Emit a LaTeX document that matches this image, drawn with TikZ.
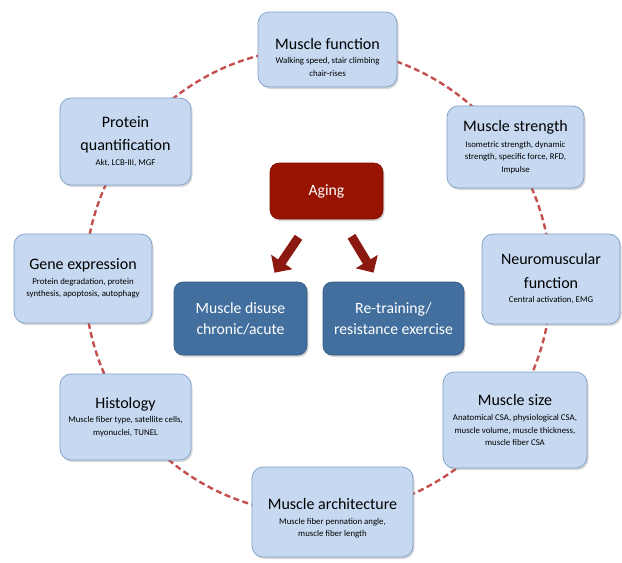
\documentclass[tikz,border=0pt]{standalone}
\usepackage{fontspec}
\setmainfont{Carlito}
\usetikzlibrary{arrows.meta,shadows,calc}

\definecolor{boxfill}{RGB}{198,217,241}
\definecolor{boxline}{RGB}{125,158,200}
\definecolor{midfill}{RGB}{66,111,158}
\definecolor{agefill}{RGB}{152,20,0}
\definecolor{arrowred}{RGB}{140,25,15}
\definecolor{ringred}{RGB}{196,80,77}

\newcommand{\boxtitle}[1]{{\fontsize{16}{19}\selectfont #1}}
\newcommand{\boxnote}[1]{{\fontsize{8.8}{11}\selectfont #1}}

\begin{document}
\begin{tikzpicture}[x=1pt,y=-1pt]
\tikzset{outer/.style={draw=boxline, fill=boxfill, rounded corners=11pt, line width=0.7pt, align=center, inner sep=2pt, font=\fontsize{8.8}{14.5}\selectfont, drop shadow={shadow xshift=1.5pt, shadow yshift=-2pt, opacity=0.3}},
  inner/.style={draw=midfill!80!black, fill=midfill, rounded corners=9pt, text=white, align=center, line width=0.6pt, font=\fontsize{15.7}{21}\selectfont, drop shadow={shadow xshift=1.5pt, shadow yshift=-2pt, opacity=0.3}},
  bigarrow/.style={arrowred, line width=9pt, -{Triangle[width=25pt,length=13pt]}}}
\useasboundingbox (0,0) rectangle (622,563);
\fill [white] (0,0) rectangle (622,563);
% ring behind the boxes
\coordinate (ctr) at (318,281);
\draw [ringred, line width=2.4pt, dash pattern=on 6pt off 3.5pt] (ctr) circle (233);
% outer boxes
\node [outer, minimum width=139, minimum height=75] (mfunc) at (327.5,49.5) {\rule{0pt}{27pt}\boxtitle{Muscle function}\\[0pt] \boxnote{Walking speed, stair climbing}\\[-2pt] \boxnote{chair-rises}};
\node [outer, minimum width=137, minimum height=82] (mstr) at (515.5,147) {\boxtitle{Muscle strength}\\[1pt] \boxnote{Isometric strength, dynamic}\\[-2pt] \boxnote{strength, specific force, RFD,}\\[-2pt] \boxnote{Impulse}};
\node [outer, minimum width=138, minimum height=90] (neuro) at (551,279) {\boxtitle{Neuromuscular}\\[9pt] \boxtitle{function}\\[0pt] \boxnote{Central activation, EMG}};
\node [outer, minimum width=144, minimum height=96] (msize) at (515,420) {\boxtitle{Muscle size}\\[1pt] \boxnote{Anatomical CSA, physiological CSA,}\\[-2pt] \boxnote{muscle volume, muscle thickness,}\\[-2pt] \boxnote{muscle fiber CSA}};
\node [outer, minimum width=161, minimum height=90] (march) at (332.5,512) {\rule{0pt}{24pt}\boxtitle{Muscle architecture}\\[0pt] \boxnote{Muscle fiber pennation angle,}\\[-2pt] \boxnote{muscle fiber length}};
\node [outer, minimum width=131, minimum height=86] (histo) at (125.5,417) {\boxtitle{Histology}\\[0pt] \boxnote{Muscle fiber type, satellite cells,}\\[-2pt] \boxnote{myonuclei, TUNEL}};
\node [outer, minimum width=138, minimum height=89] (gene) at (83,278.5) {\boxtitle{Gene expression}\\[0pt] \boxnote{Protein degradation, protein}\\[-2pt] \boxnote{synthesis, apoptosis, autophagy}};
\node [outer, minimum width=131, minimum height=87] (prot) at (125.5,141.5) {\boxtitle{Protein}\\[9pt] \boxtitle{quantification}\\[0pt] \boxnote{Akt, LCB-III, MGF}};
% middle
\node [inner, draw=agefill!80!black, fill=agefill, minimum width=113, minimum height=56] (aging) at (326.5,191) {Aging};
\node [inner, minimum width=133, minimum height=73] (disuse) at (240.5,318.5) {Muscle disuse\\ chronic/acute};
\node [inner, minimum width=141, minimum height=73] (retrain) at (393.5,318.5) {Re-training/\\ resistance exercise};
\draw [bigarrow] ($(aging.south)+(-28,18)$) -- ($(disuse.north)+(34,-9)$);
\draw [bigarrow] ($(aging.south)+(25,17)$) -- ($(retrain.north)+(-20,-9)$);
\end{tikzpicture}
\end{document}
